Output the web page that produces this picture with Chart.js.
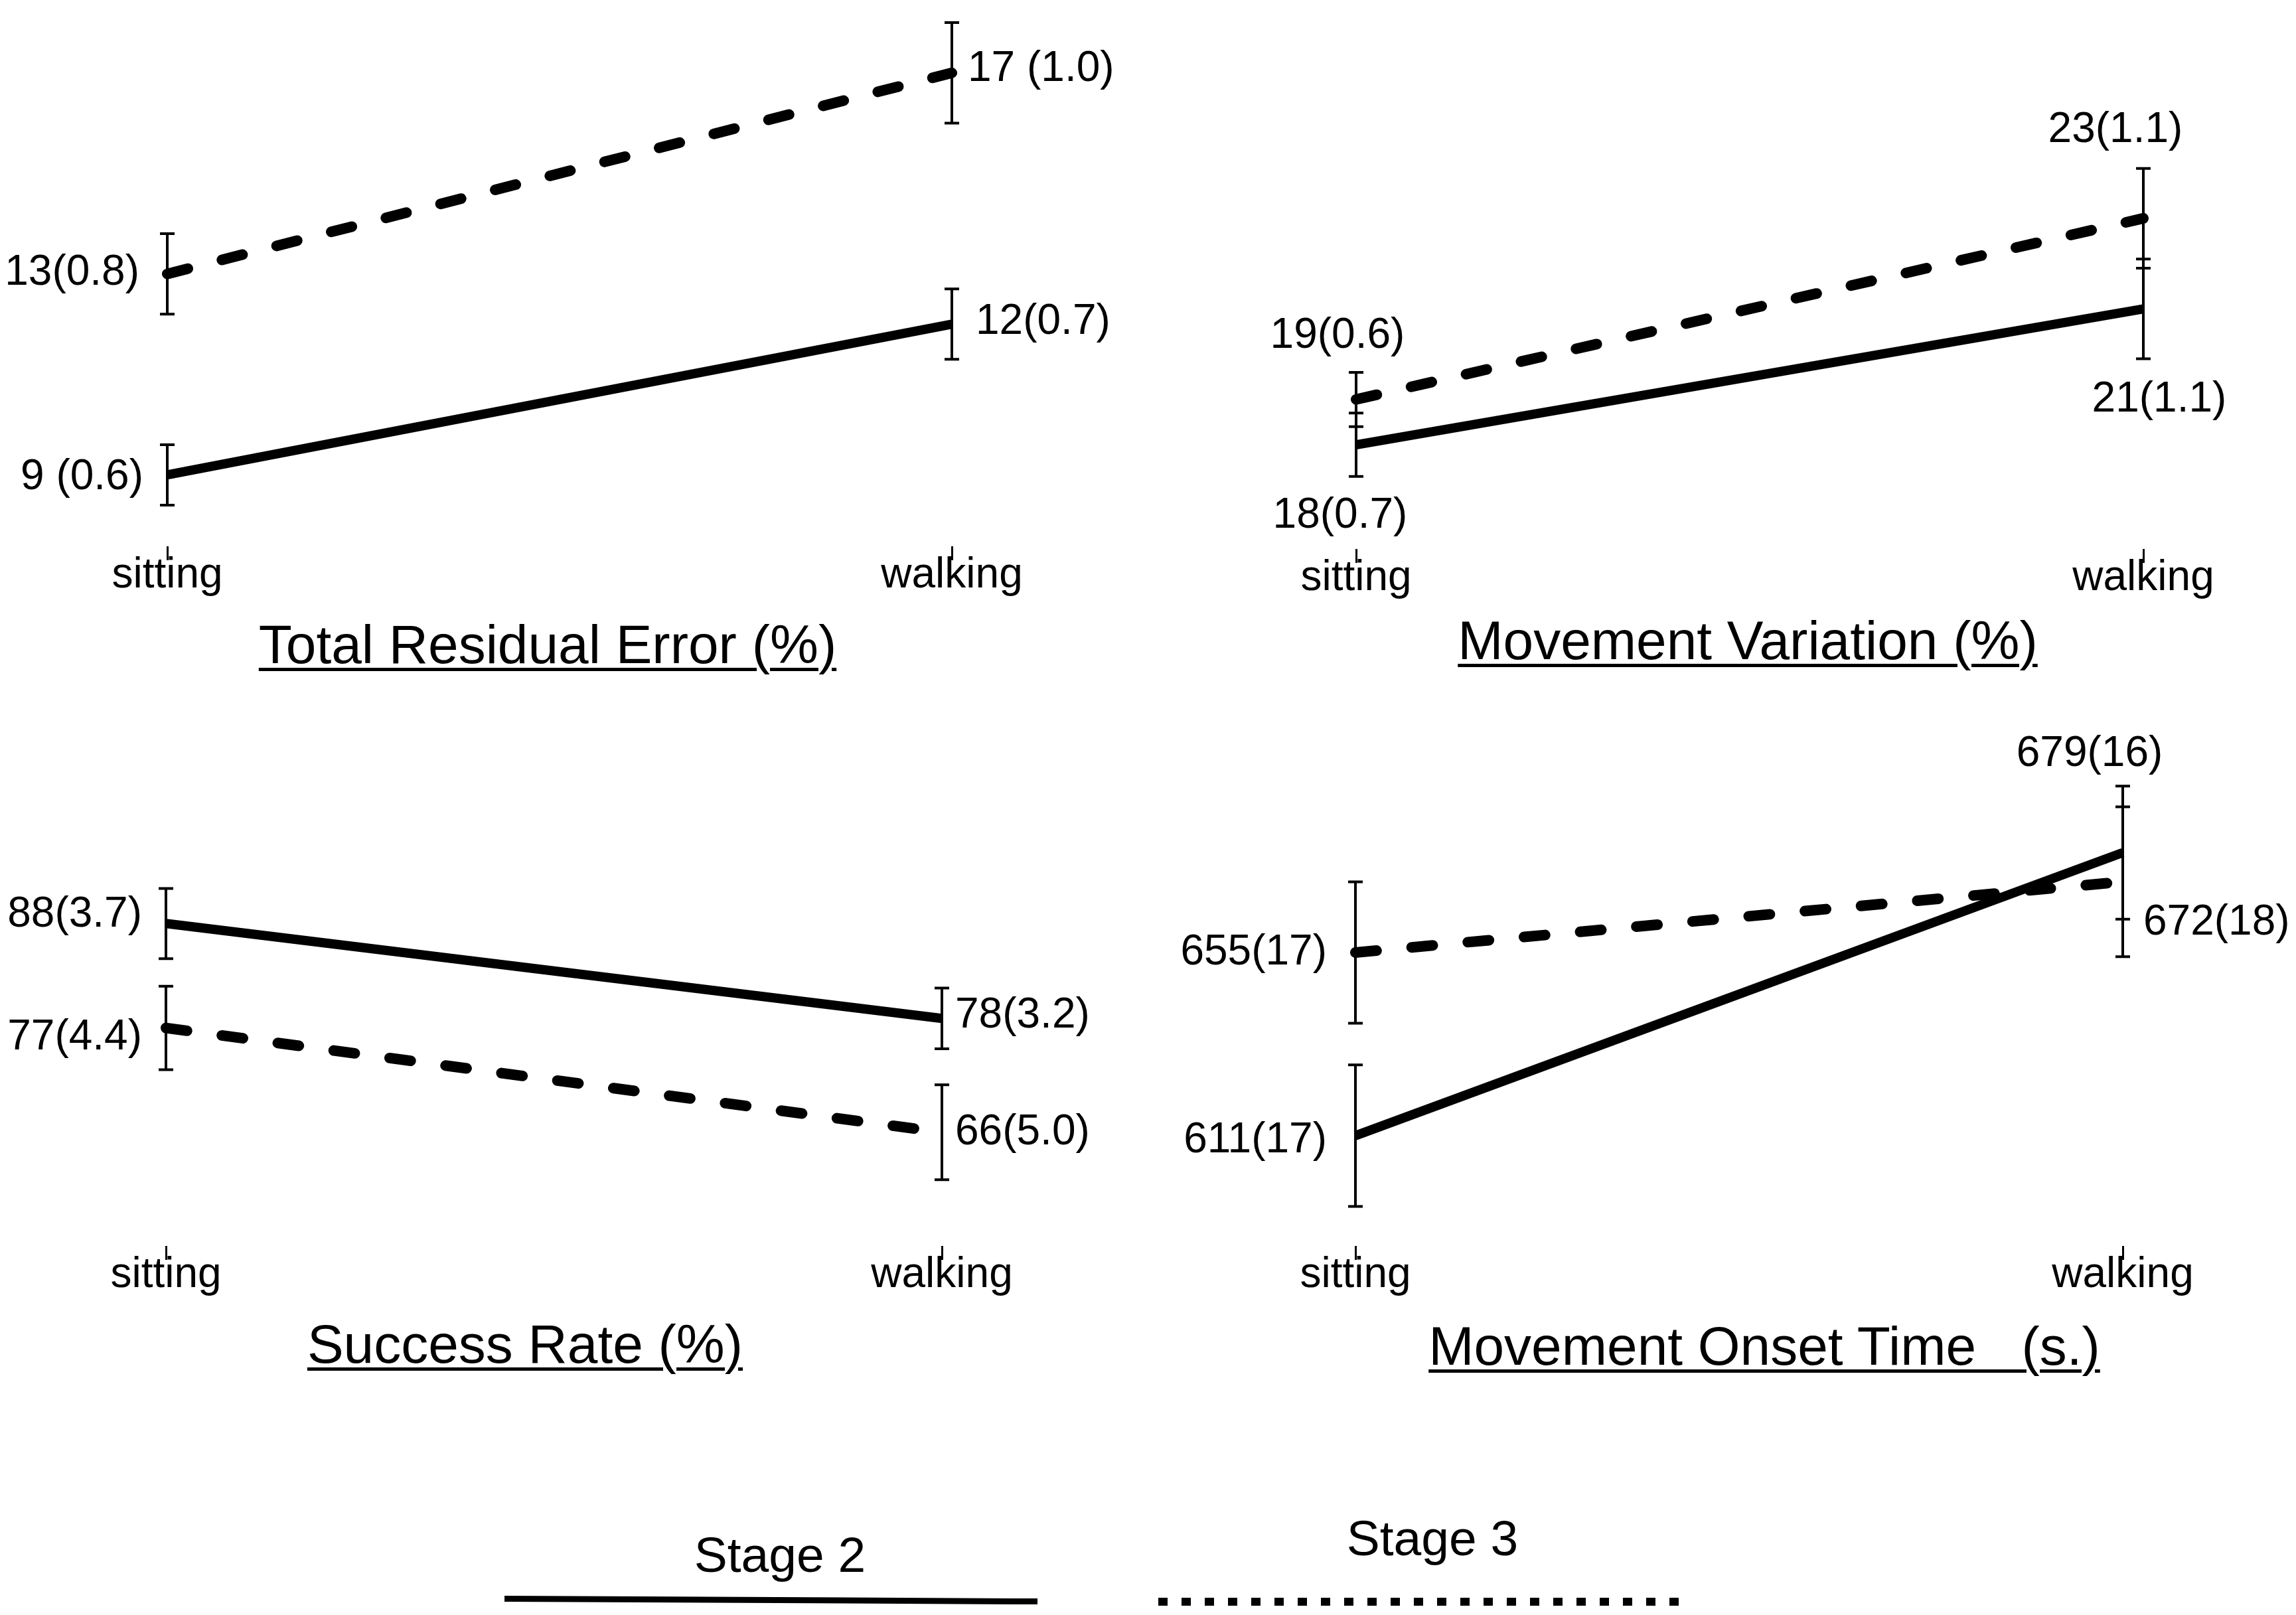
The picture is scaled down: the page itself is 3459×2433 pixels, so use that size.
<!DOCTYPE html>
<html>
<head>
<meta charset="utf-8">
<title>Stage 2 vs Stage 3</title>
<script src="https://cdn.jsdelivr.net/npm/chart.js@4.4.0/dist/chart.umd.min.js"></script>
<style>
  html, body { margin: 0; padding: 0; background: #fff; }
  body { width: 3459px; height: 2433px; position: relative; overflow: hidden;
         font-family: "Liberation Sans", Arial, sans-serif; color: #000; }
  .panel { position: absolute; width: 1730px; height: 940px; }
  .title { position: absolute; width: 2000px; text-align: center; font-size: 82px;
           line-height: 82px; white-space: pre; }
  .title span { text-decoration: underline; text-decoration-thickness: 5px;
                text-underline-offset: 7px; }
  .legend-text { position: absolute; width: 600px; text-align: center; font-size: 75px;
                 line-height: 75px; }
  .legend-line { position: absolute; }
</style>
</head>
<body>

<div class="panel" id="p1" style="left:0; top:0;"><canvas id="c1"></canvas></div>
<div class="panel" id="p2" style="left:1729px; top:0;"><canvas id="c2"></canvas></div>
<div class="panel" id="p3" style="left:0; top:1050px;"><canvas id="c3"></canvas></div>
<div class="panel" id="p4" style="left:1729px; top:1050px;"><canvas id="c4"></canvas></div>

<div class="title" id="t1" style="left:-175px; top:930px;"></div>
<div class="title" id="t2" style="left:1633px; top:924px;"></div>
<div class="title" id="t3" style="left:-209px; top:1984px;"></div>
<div class="title" id="t4" style="left:1658px; top:1987px;"></div>

<div class="legend-text" id="lg2" style="left:875px; top:2305px;"></div>
<div class="legend-line" style="left:760px; top:2406px; width:803px; height:9px; background:#000; transform:rotate(0.3deg);"></div>
<div class="legend-text" id="lg3" style="left:1858px; top:2280px;"></div>
<div class="legend-line" style="left:1745px; top:2407px; width:805px; height:12px;
     background:repeating-linear-gradient(to right, #000 0 14px, transparent 14px 35px);"></div>

<script>
// ---- data ----
const categories = ["sitting", "walking"];
const seriesNames = ["Stage 2", "Stage 3"];
const titles = ["Total Residual Error (%)", "Movement Variation (%)",
                "Success Rate (%)", "Movement Onset Time   (s.)"];

// Total Residual Error (%)
const treStage2 = [9, 12];
const treStage2Se = [0.6, 0.7];
const treStage2Text = ["9 (0.6)", "12(0.7)"];
const treStage3 = [13, 17];
const treStage3Se = [0.8, 1.0];
const treStage3Text = ["13(0.8)", "17 (1.0)"];

// Movement Variation (%)
const mvStage2 = [18, 21];
const mvStage2Se = [0.7, 1.1];
const mvStage2Text = ["18(0.7)", "21(1.1)"];
const mvStage3 = [19, 23];
const mvStage3Se = [0.6, 1.1];
const mvStage3Text = ["19(0.6)", "23(1.1)"];

// Success Rate (%)
const srStage2 = [88, 78];
const srStage2Se = [3.7, 3.2];
const srStage2Text = ["88(3.7)", "78(3.2)"];
const srStage3 = [77, 66];
const srStage3Se = [4.4, 5.0];
const srStage3Text = ["77(4.4)", "66(5.0)"];

// Movement Onset Time (s.)
const motStage2 = [611, 679];
const motStage2Se = [17, 16];
const motStage2Text = ["611(17)", "679(16)"];
const motStage3 = [655, 672];
const motStage3Se = [17, 18];
const motStage3Text = ["655(17)", "672(18)"];

// ---- static text ----
titles.forEach((t, i) => {
  const s = document.createElement("span");
  s.textContent = t;
  document.getElementById("t" + (i + 1)).appendChild(s);
});
document.getElementById("lg2").textContent = seriesNames[0];
document.getElementById("lg3").textContent = seriesNames[1];

Chart.defaults.font.family = "'Liberation Sans', Arial, sans-serif";
Chart.defaults.color = "#000";

// error bars + value labels
// place: side = left/right/above/below, gap in px, dx/dy shifts
const errorBarsAndLabels = {
  id: "errorBarsAndLabels",
  afterDatasetsDraw(chart) {
    const ctx = chart.ctx;
    const y = chart.scales.y;
    ctx.save();
    chart.data.datasets.forEach((ds, di) => {
      const meta = chart.getDatasetMeta(di);
      meta.data.forEach((pt, i) => {
        const v = ds.data[i];
        const e = ds.errors[i];
        const yTop = y.getPixelForValue(v + e);
        const yBot = y.getPixelForValue(v - e);
        ctx.setLineDash([]);
        ctx.lineCap = "butt";
        ctx.strokeStyle = "#000";
        ctx.lineWidth = 4;
        ctx.beginPath();
        ctx.moveTo(pt.x, yTop); ctx.lineTo(pt.x, yBot);
        ctx.moveTo(pt.x - 11, yTop); ctx.lineTo(pt.x + 11, yTop);
        ctx.moveTo(pt.x - 11, yBot); ctx.lineTo(pt.x + 11, yBot);
        ctx.stroke();

        const p = ds.place[i];
        ctx.fillStyle = "#000";
        ctx.font = "64px 'Liberation Sans', Arial, sans-serif";
        ctx.textBaseline = "alphabetic";
        let tx = pt.x, ty = pt.y;
        if (p.side === "left") {
          ctx.textAlign = "right"; tx = pt.x - p.gap; ty = pt.y + p.dy;
        } else if (p.side === "right") {
          ctx.textAlign = "left"; tx = pt.x + p.gap; ty = pt.y + p.dy;
        } else if (p.side === "above") {
          ctx.textAlign = "center"; tx = pt.x + p.dx; ty = yTop - p.gap;
        } else {
          ctx.textAlign = "center"; tx = pt.x + p.dx; ty = yBot + p.gap;
        }
        ctx.fillText(ds.texts[i], tx, ty);
      });
    });
    ctx.restore();
  }
};

function makePanel(id, cfg) {
  return new Chart(document.getElementById(id), {
    type: "line",
    data: {
      labels: categories,
      datasets: [
        {
          label: seriesNames[0],
          data: cfg.s2, errors: cfg.s2se, texts: cfg.s2text, place: cfg.s2place,
          borderColor: "#000", borderWidth: 14, pointRadius: 0, tension: 0, fill: false
        },
        {
          label: seriesNames[1],
          data: cfg.s3, errors: cfg.s3se, texts: cfg.s3text, place: cfg.s3place,
          borderColor: "#000", borderWidth: 16, borderDash: [32, 53],
          borderCapStyle: "round", pointRadius: 0, tension: 0, fill: false
        }
      ]
    },
    options: {
      responsive: true,
      maintainAspectRatio: false,
      animation: false,
      layout: { padding: cfg.pad },
      plugins: { legend: { display: false }, tooltip: { enabled: false } },
      scales: {
        x: {
          type: "category",
          offset: false,
          border: { display: false },
          grid: { display: true, drawOnChartArea: false, drawTicks: true,
                  tickLength: 21, lineWidth: 3, color: "#000" },
          ticks: { font: { size: 64 }, padding: -15, maxRotation: 0, autoSkip: false },
          afterFit: (s) => { s.height = 110; }
        },
        y: { display: false, min: cfg.min, max: cfg.max }
      }
    },
    plugins: [errorBarsAndLabels]
  });
}

makePanel("c1", {
  s2: treStage2, s2se: treStage2Se, s2text: treStage2Text,
  s3: treStage3, s3se: treStage3Se, s3text: treStage3Text,
  s2place: [{ side: "left", gap: 36, dy: 22 }, { side: "right", gap: 36, dy: 15 }],
  s3place: [{ side: "left", gap: 42, dy: 16 }, { side: "right", gap: 24, dy: 12 }],
  pad: { left: 252, right: 296, top: 0, bottom: 7 },
  min: 7.58, max: 18.45
});

makePanel("c2", {
  s2: mvStage2, s2se: mvStage2Se, s2text: mvStage2Text,
  s3: mvStage3, s3se: mvStage3Se, s3text: mvStage3Text,
  s2place: [{ side: "below", gap: 77, dx: -24 }, { side: "below", gap: 80, dx: 24 }],
  s3place: [{ side: "above", gap: 37, dx: -28 }, { side: "above", gap: 40, dx: -42 }],
  pad: { left: 314, right: 230, top: 0, bottom: 3 },
  min: 15.70, max: 27.82
});

makePanel("c3", {
  s2: srStage2, s2se: srStage2Se, s2text: srStage2Text,
  s3: srStage3, s3se: srStage3Se, s3text: srStage3Text,
  s2place: [{ side: "left", gap: 36, dy: 5 }, { side: "right", gap: 20, dy: 14 }],
  s3place: [{ side: "left", gap: 36, dy: 32 }, { side: "right", gap: 20, dy: 18 }],
  pad: { left: 250, right: 311, top: 0, bottom: 3 },
  min: 54.03, max: 111.87
});

makePanel("c4", {
  s2: motStage2, s2se: motStage2Se, s2text: motStage2Text,
  s3: motStage3, s3se: motStage3Se, s3text: motStage3Text,
  s2place: [{ side: "left", gap: 43, dy: 25 }, { side: "above", gap: 30, dx: -50 }],
  s3place: [{ side: "left", gap: 43, dy: 18 }, { side: "right", gap: 31, dy: 80 }],
  pad: { left: 313, right: 261, top: 0, bottom: 3 },
  min: 584.5, max: 716.4
});
</script>
</body>
</html>
